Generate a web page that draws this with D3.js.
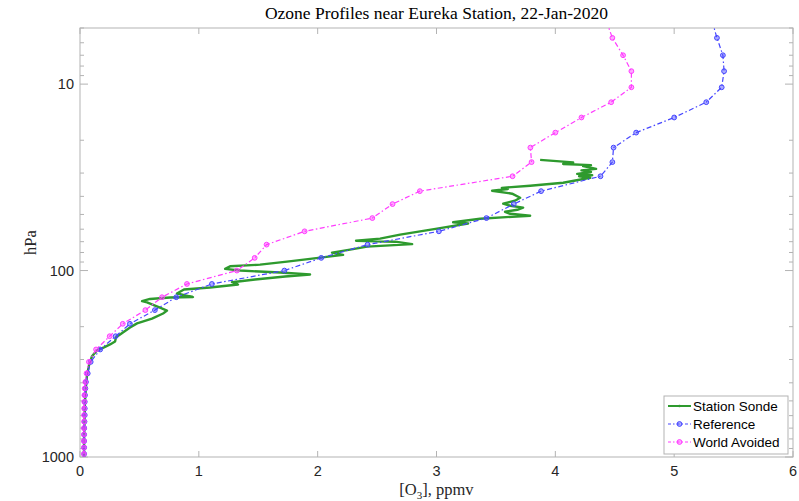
<!DOCTYPE html>
<html>
<head>
<meta charset="utf-8">
<script src="https://cdn.jsdelivr.net/npm/d3@7"></script>
<style>
  body { margin: 0; background: #fff; }
  svg { display: block; }
</style>
</head>
<body>
<div class="chart"></div>
<script>
// pressure levels (hPa) used by the two model profiles
const levels = [4.6, 5.65, 7.0, 8.52, 10.4, 12.5, 15.1, 18.2, 21.9, 26.2, 31.2, 37.5, 44.0, 52.3,
  61.6, 72.6, 85.5, 100, 118, 139, 163, 193, 225, 265, 309, 356, 396, 429, 466, 506, 549,
  596, 646, 700, 758, 821, 890, 963];

const referenceO3 = [5.32, 5.36, 5.41, 5.42, 5.40, 5.27, 5.00, 4.68, 4.49, 4.48, 4.38, 3.88, 3.65, 3.42,
  3.02, 2.42, 2.03, 1.72, 1.11, 0.81, 0.63, 0.42, 0.30, 0.17, 0.09, 0.065, 0.05, 0.045, 0.042, 0.04, 0.04,
  0.04, 0.038, 0.036, 0.035, 0.035, 0.035, 0.035];

const worldAvoidedO3 = [4.43, 4.48, 4.57, 4.64, 4.64, 4.47, 4.22, 4.00, 3.79, 3.80, 3.64, 2.86, 2.63, 2.46,
  1.89, 1.57, 1.47, 1.32, 0.90, 0.69, 0.55, 0.36, 0.25, 0.135, 0.075, 0.055, 0.045, 0.040, 0.037, 0.036, 0.035,
  0.034, 0.034, 0.033, 0.033, 0.033, 0.033, 0.033];

// ozonesonde trace, bottom to top
const sondeP = [1000, 811, 634, 496, 412, 364, 322, 288, 268, 258, 249, 240, 228, 220, 202, 192, 181,
  170, 164, 158, 148, 146, 142, 139.5, 138.7, 132.8, 126.4, 123.3, 118.8, 115.5, 111.7, 107.6, 105,
  102.5, 100, 97.9, 94.9, 92.9, 89.5, 86.6, 82.4, 80.1, 77.2, 74.4, 72.1, 70.0, 69.2, 67.4, 64.2,
  59.6, 55.9, 55.1, 52.7, 50.8, 49.6, 48.4, 47.2, 46.0, 44.9, 43.8, 42.2, 40.7, 38.7, 37.3, 36.5, 36.0,
  35.1, 33.8, 31.8, 31.2, 30.8, 30.3, 29.6, 29.0, 28.5, 27.5, 27.2, 26.8, 26.3, 25.5];
const sondeO3 = [0.034, 0.034, 0.038, 0.042, 0.051, 0.059, 0.076, 0.101, 0.143, 0.202, 0.253, 0.295,
  0.303, 0.337, 0.421, 0.480, 0.606, 0.699, 0.732, 0.673, 0.564, 0.522, 0.589, 0.758, 0.951, 0.816,
  0.875, 1.094, 1.330, 1.279, 1.473, 1.726, 1.936, 1.684, 1.347, 1.221, 1.263, 1.515, 1.742, 1.936,
  2.214, 2.121, 2.273, 2.416, 2.795, 2.652, 2.323, 2.525, 2.694, 3.005, 3.266, 3.140, 3.367, 3.788,
  3.62, 3.577, 3.68, 3.729, 3.62, 3.561, 3.66, 3.704, 3.636, 3.468, 3.60, 3.55,
  3.788, 4.066, 4.293, 4.20, 4.31, 4.184, 4.30, 4.22, 4.343, 4.234, 4.30, 4.066, 4.15, 3.872];

const xTicks = [0, 1, 2, 3, 4, 5, 6];
const yTicks = [10, 100, 1000];

const width = 799;
const height = 501;
const margin = { left: 80, right: 6, top: 28, bottom: 44 };

const x = d3.scaleLinear().domain([0, 6]).range([margin.left, width - margin.right]);
const y = d3.scaleLog().domain([1000, 5]).range([height - margin.bottom, margin.top]);

const svg = d3.select('.chart').append('svg')
    .attr('width', width)
    .attr('height', height);

svg.append('clipPath').attr('id', 'plot-clip')
  .append('rect')
    .attr('x', x(0)).attr('y', y(5))
    .attr('width', x(6) - x(0)).attr('height', y(1000) - y(5));

const axisColor = '#b3b3b3';
const textColor = '#262626';

// minor log ticks
const minor = [];
[1, 10, 100].forEach(dec => {
  for (let k = 2; k <= 9; k++) {
    const v = dec * k;
    if (v >= 5 && v < 1000) minor.push(v);
  }
});

const ticks = svg.append('g');
minor.forEach(v => {
  ticks.append('line').attr('x1', x(0)).attr('x2', x(0) + 4).attr('y1', y(v)).attr('y2', y(v))
    .attr('stroke', axisColor);
  ticks.append('line').attr('x1', x(6)).attr('x2', x(6) - 4).attr('y1', y(v)).attr('y2', y(v))
    .attr('stroke', axisColor);
});
yTicks.forEach(v => {
  ticks.append('line').attr('x1', x(0)).attr('x2', x(0) + 8).attr('y1', y(v)).attr('y2', y(v))
    .attr('stroke', axisColor);
  ticks.append('line').attr('x1', x(6)).attr('x2', x(6) - 8).attr('y1', y(v)).attr('y2', y(v))
    .attr('stroke', axisColor);
  ticks.append('text')
    .attr('x', x(0) - 6).attr('y', y(v) + 5)
    .attr('text-anchor', 'end')
    .style('font-family', '"Liberation Sans", Arial, sans-serif')
    .style('font-size', '14.5px')
    .attr('fill', textColor)
    .text(v);
});
xTicks.forEach(v => {
  ticks.append('line').attr('x1', x(v)).attr('x2', x(v)).attr('y1', y(1000)).attr('y2', y(1000) - 6)
    .attr('stroke', axisColor);
  ticks.append('line').attr('x1', x(v)).attr('x2', x(v)).attr('y1', y(5)).attr('y2', y(5) + 6)
    .attr('stroke', axisColor);
  ticks.append('text')
    .attr('x', x(v)).attr('y', y(1000) + 19)
    .attr('text-anchor', 'middle')
    .style('font-family', '"Liberation Sans", Arial, sans-serif')
    .style('font-size', '14.5px')
    .attr('fill', textColor)
    .text(v);
});

svg.append('rect')
    .attr('x', x(0)).attr('y', y(5))
    .attr('width', x(6) - x(0)).attr('height', y(1000) - y(5))
    .attr('fill', 'none')
    .attr('stroke', axisColor);

const plot = svg.append('g').attr('clip-path', 'url(#plot-clip)');

const line = d3.line().x(d => x(d[0])).y(d => y(d[1]));

const series = [
  { name: 'World Avoided', color: '#ff3dff', values: worldAvoidedO3 },
  { name: 'Reference', color: '#4646ff', values: referenceO3 }
];

// sonde first (underneath)
const sonde = sondeP.map((p, i) => [sondeO3[i], p]);
plot.append('path')
    .datum(sonde)
    .attr('d', line)
    .attr('fill', 'none')
    .attr('stroke', '#2e9a2e')
    .attr('stroke-width', 2.4)
    .attr('stroke-linejoin', 'round');

[series[1], series[0]].forEach(s => {
  const pts = levels.map((p, i) => [s.values[i], p]);
  plot.append('path')
      .datum(pts)
      .attr('d', line)
      .attr('fill', 'none')
      .attr('stroke', s.color)
      .attr('stroke-width', 1.2)
      .attr('stroke-dasharray', '5,2.5,1.5,2.5');
  plot.selectAll(null)
    .data(pts)
    .join('circle')
      .attr('cx', d => x(d[0]))
      .attr('cy', d => y(d[1]))
      .attr('r', 2.4)
      .attr('fill', s.color)
      .attr('fill-opacity', 0.45)
      .attr('stroke', s.color)
      .attr('stroke-width', 1);
});

// legend
const legend = svg.append('g').attr('transform', 'translate(664,396)');
legend.append('rect')
    .attr('width', 124).attr('height', 58)
    .attr('fill', '#fff')
    .attr('stroke', axisColor);

const legendItems = [
  { name: 'Station Sonde', color: '#2e9a2e', marker: false },
  { name: 'Reference', color: '#4646ff', marker: true },
  { name: 'World Avoided', color: '#ff3dff', marker: true }
];
legendItems.forEach((it, i) => {
  const ly = 10 + i * 18;
  legend.append('line')
    .attr('x1', 4).attr('x2', 27).attr('y1', ly).attr('y2', ly)
    .attr('stroke', it.color)
    .attr('stroke-width', it.marker ? 1.2 : 2)
    .attr('stroke-dasharray', it.marker ? '3,2,1.5,2' : null);
  if (it.marker) {
    legend.append('circle')
      .attr('cx', 15.5).attr('cy', ly).attr('r', 2.4)
      .attr('fill', it.color).attr('fill-opacity', 0.45)
      .attr('stroke', it.color);
  } else {
    legend.append('circle').attr('cx', 15.5).attr('cy', ly).attr('r', 1.3).attr('fill', it.color);
  }
  legend.append('text')
    .attr('x', 29).attr('y', ly + 5)
    .style('font-family', '"Liberation Sans", Arial, sans-serif')
    .style('font-size', '13.5px')
    .attr('fill', '#000')
    .text(it.name);
});

// title and labels
svg.append('text')
    .attr('x', (x(0) + x(6)) / 2).attr('y', 19)
    .attr('text-anchor', 'middle')
    .style('font-family', '"Liberation Serif", "DejaVu Serif", serif')
    .style('font-size', '17.5px')
    .attr('fill', '#000')
    .text('Ozone Profiles near Eureka Station, 22-Jan-2020');

const xl = svg.append('text')
    .attr('x', (x(0) + x(6)) / 2).attr('y', 495)
    .attr('text-anchor', 'middle')
    .style('font-family', '"Liberation Serif", "DejaVu Serif", serif')
    .style('font-size', '16.5px')
    .attr('fill', textColor);
xl.append('tspan').text('[O');
xl.append('tspan').attr('dy', 4).style('font-size', '11px').text('3');
xl.append('tspan').attr('dy', -4).text('], ppmv');

svg.append('text')
    .attr('transform', `translate(36,${(y(5) + y(1000)) / 2}) rotate(-90)`)
    .attr('text-anchor', 'middle')
    .style('font-family', '"Liberation Serif", "DejaVu Serif", serif')
    .style('font-size', '16.5px')
    .attr('fill', textColor)
    .text('hPa');
</script>
</body>
</html>
